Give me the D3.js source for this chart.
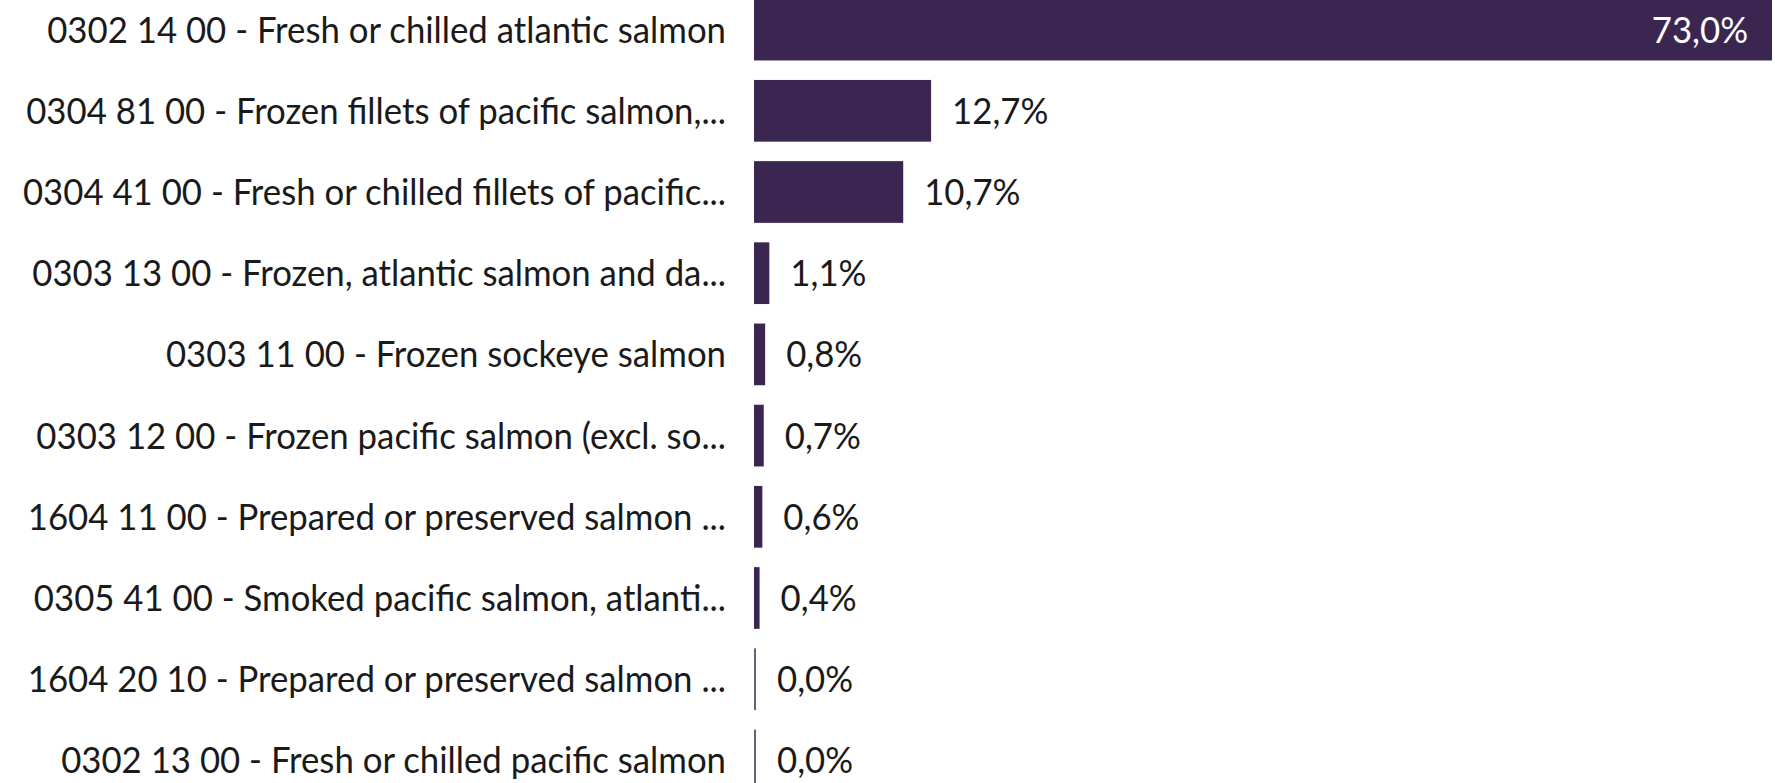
<!DOCTYPE html>
<meta charset="utf-8">
<style>
  body { margin: 0; background: #fff; }
  text { font-family: Lato, sans-serif; }
</style>
<body>
<svg id="chart" width="1775" height="783"></svg>
<script src="https://d3js.org/d3.v7.min.js"></script>
<script>
  var categories = [
    "0302 14 00 - Fresh or chilled atlantic salmon",
    "0304 81 00 - Frozen fillets of pacific salmon,...",
    "0304 41 00 - Fresh or chilled fillets of pacific...",
    "0303 13 00 - Frozen, atlantic salmon and da...",
    "0303 11 00 - Frozen sockeye salmon",
    "0303 12 00 - Frozen pacific salmon (excl. so...",
    "1604 11 00 - Prepared or preserved salmon ...",
    "0305 41 00 - Smoked pacific salmon, atlanti...",
    "1604 20 10 - Prepared or preserved salmon ...",
    "0302 13 00 - Fresh or chilled pacific salmon"
  ];
  var shares = [73.0, 12.7, 10.7, 1.1, 0.8, 0.7, 0.6, 0.4, 0.02, 0.02];

  var fontSize = 36.3,
    barColor = "#3a2651",
    labelRight = 726,
    x0 = 754,
    x1 = 1772;

  var svg = d3.select("#chart");

  var x = d3.scaleLinear().domain([0, 73]).range([x0, x1]);
  var y = d3.scaleBand().domain(categories).range([-11, 801])
    .paddingInner(0.24).paddingOuter(0.12);

  var fmt = function(v) { return d3.format(".1f")(v).replace(".", ",") + "%"; };

  // measure to get a narrow, Calibri-like width
  var probe = svg.append("text").style("font-size", fontSize + "px").text(categories[0]);
  var sx = (labelRight - 47) / probe.node().getComputedTextLength();
  probe.remove();

  var data = categories.map(function(c, i) { return { cat: c, v: shares[i] }; });

  svg.append("g").selectAll("rect")
    .data(data)
    .enter().append("rect")
    .attr("x", x(0))
    .attr("y", function(d) { return y(d.cat); })
    .attr("width", function(d) { return Math.max(x(d.v) - x(0), 2); })
    .attr("height", y.bandwidth())
    .attr("fill", function(d) { return d.v < 0.1 ? "#6b5c82" : barColor; });

  svg.append("g").selectAll("text")
    .data(data)
    .enter().append("text")
    .attr("transform", function(d) {
      return "translate(" + labelRight + "," + (y(d.cat) + y.bandwidth() / 2 + 13) + ") scale(" + sx + ",1)";
    })
    .attr("text-anchor", "end")
    .style("font-size", fontSize + "px")
    .attr("fill", "#1a1a1a")
    .text(function(d) { return d.cat; });

  svg.append("g").selectAll("text")
    .data(data)
    .enter().append("text")
    .attr("transform", function(d) {
      var inside = x(d.v) - x(0) > 500;
      var tx = inside ? x(d.v) - 24 : Math.max(x(d.v), x(0) + 2) + 21;
      return "translate(" + tx + "," + (y(d.cat) + y.bandwidth() / 2 + 13) + ") scale(" + sx + ",1)";
    })
    .attr("text-anchor", function(d) { return x(d.v) - x(0) > 500 ? "end" : "start"; })
    .style("font-size", fontSize + "px")
    .attr("fill", function(d) { return x(d.v) - x(0) > 500 ? "#ffffff" : "#1a1a1a"; })
    .text(function(d) { return fmt(d.v); });
</script>
</body>
